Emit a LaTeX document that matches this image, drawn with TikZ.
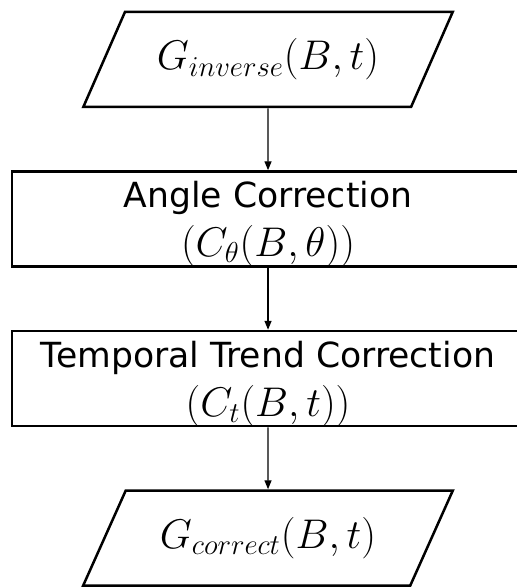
\documentclass[tikz,border=0pt]{standalone}
\usepackage{fontspec}
\setmainfont{DejaVu Sans}
\usetikzlibrary{arrows.meta,positioning,shapes.geometric}
\DeclareMathSizes{20.74}{20.74}{14.4}{10}
\newcommand{\flowmath}[1]{{\fontsize{20.74}{24.5}\selectfont$#1$}}

\begin{document}
\begin{tikzpicture}[
    x=0.5pt, y=0.5pt,
    node distance=31pt,
    io/.style={trapezium, trapezium left angle=52, trapezium right angle=128, trapezium stretches=true, draw, line width=1.25pt, minimum width=185pt, minimum height=47.5pt, inner sep=0pt, font=\fontsize{20.74}{25}\selectfont},
    box/.style={rectangle, draw, line width=1.25pt, minimum width=256pt, minimum height=47.5pt, inner sep=0pt, text height=42.5pt, text depth=5pt, align=center, font=\fontsize{17.3}{24.5}\selectfont},
    arrow/.style={-{Triangle[length=4.5pt,width=3.5pt]}, line width=0.7pt}
]
\useasboundingbox (0,0) rectangle (516,-587);
\node[io] (ginv) at (268,-59.5) {$G_{inverse}(B,t)$};
\node[box, below=of ginv] (angle) {Angle Correction\\\flowmath{(C_\theta(B,\theta))}};
\node[box, below=of angle] (trend) {Temporal Trend Correction\\\flowmath{(C_t(B,t))}};
\node[io, below=of trend] (gcor) {$G_{correct}(B,t)$};

\draw[arrow] (ginv) -- (angle);
\draw[arrow] (angle) -- (trend);
\draw[arrow] (trend) -- (gcor);
\end{tikzpicture}
\end{document}
